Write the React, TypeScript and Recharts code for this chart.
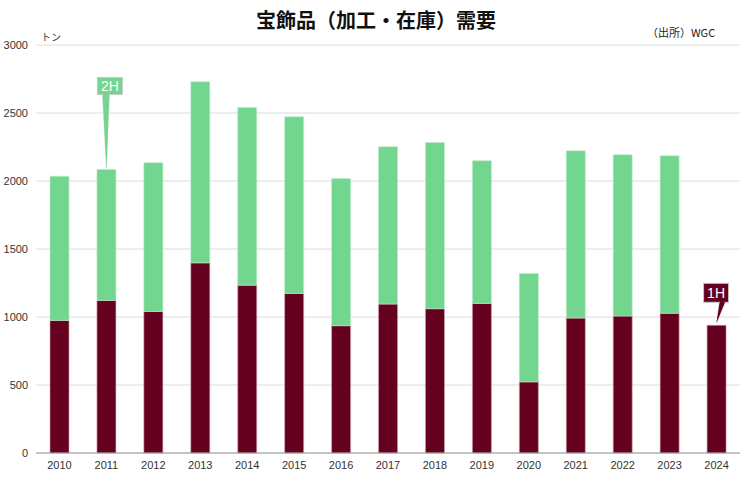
import React from 'react';
import { BarChart, Bar, XAxis, YAxis, CartesianGrid, LabelList } from 'recharts';

const years = ['2010','2011','2012','2013','2014','2015','2016','2017','2018','2019','2020','2021','2022','2023','2024'];
const firstHalf = [975, 1122, 1041, 1398, 1234, 1173, 936, 1095, 1061, 1100, 523, 992, 1007, 1027, 939];
const secondHalf: (number | null)[] = [1060, 963, 1094, 1332, 1306, 1299, 1082, 1157, 1222, 1049, 797, 1230, 1186, 1158, null];
const yTicks = [0, 500, 1000, 1500, 2000, 2500, 3000];

const data = years.map((y, i) => ({ year: y, h1: firstHalf[i], h2: secondHalf[i] }));

const MAROON = '#66001f';
const GREEN = '#72d68f';
const FONT = '"Liberation Sans", Arial, sans-serif';

const Callout2H = (props: any) => {
  const { x, y, width, index } = props;
  if (index !== 1) return null;
  const cx = Number(x) + Number(width) / 2;
  const top = Number(y);
  const bw = 25, bh = 17;
  const boxBottom = top - 75;
  const boxTop = boxBottom - bh;
  return (
    <g>
      <polygon points={`${cx - 4},${boxBottom - 1} ${cx + 3},${boxBottom - 1} ${cx},${top - 1}`} fill={GREEN} stroke="#c8c8c8" strokeWidth={0.6} />
      <rect x={cx - 9} y={boxTop} width={bw} height={bh} fill={GREEN} stroke="#c8c8c8" strokeWidth={1} />
      <polygon points={`${cx - 3.5},${boxBottom - 1} ${cx + 2.5},${boxBottom - 1} ${cx},${top - 2}`} fill={GREEN} />
      <text x={cx + 3.5} y={boxTop + 13.5} textAnchor="middle" fill="#fff" fontSize={14} fontFamily={FONT}>2H</text>
    </g>
  );
};

const Callout1H = (props: any) => {
  const { x, y, width, index } = props;
  if (index !== 14) return null;
  const cx = Number(x) + Number(width) / 2;
  const top = Number(y);
  const bw = 25, bh = 19;
  const boxBottom = top - 23;
  const boxTop = boxBottom - bh;
  return (
    <g>
      <polygon points={`${cx + 3},${boxBottom - 1} ${cx + 9},${boxBottom - 1} ${cx},${top - 2}`} fill={MAROON} stroke="#c8c8c8" strokeWidth={0.6} />
      <rect x={cx - 13} y={boxTop} width={bw} height={bh} fill={MAROON} stroke="#c8c8c8" strokeWidth={1} />
      <polygon points={`${cx + 3.5},${boxBottom - 1} ${cx + 8.5},${boxBottom - 1} ${cx},${top - 3}`} fill={MAROON} />
      <text x={cx - 0.5} y={boxTop + 15} textAnchor="middle" fill="#fff" fontSize={14} fontFamily={FONT}>1H</text>
    </g>
  );
};

export default function App() {
  return (
    <div style={{ position: 'absolute', left: 0, top: 0, width: 752, height: 492, background: '#fff' }}>
      <div style={{ position: 'absolute', left: 0, top: 6, width: 752, textAlign: 'center', fontFamily: '"Noto Sans CJK JP", sans-serif', fontWeight: 700, fontSize: 20, color: '#111', lineHeight: '28px' }}>
        宝飾品（加工・在庫）需要
      </div>
      <div style={{ position: 'absolute', left: 647, top: 24, fontFamily: '"Noto Sans CJK JP", sans-serif', fontSize: 11, color: '#222', lineHeight: '16px', whiteSpace: 'nowrap' }}>
        （出所）WGC
      </div>
      <div style={{ position: 'absolute', left: 41, top: 30, fontFamily: '"Noto Sans CJK JP", sans-serif', fontSize: 10, color: '#333', lineHeight: '14px' }}>
        トン
      </div>
      <BarChart width={752} height={492} data={data} margin={{ top: 45, right: 12, bottom: 14, left: 0 }} barSize={19}>
        <CartesianGrid vertical={false} stroke="#dcdcdc" />
        <XAxis dataKey="year" tickLine={false} axisLine={{ stroke: '#9a9a9a' }} height={25}
          tick={{ fontSize: 11, fill: '#333', fontFamily: FONT }} interval={0} />
        <YAxis domain={[0, 3000]} ticks={yTicks} width={36} tickLine={false} axisLine={false}
          tick={{ fontSize: 11, fill: '#333', fontFamily: FONT }} />
        <Bar dataKey="h1" stackId="a" fill={MAROON} stroke="#c9a3ad" strokeWidth={0.6} isAnimationActive={false}>
          <LabelList dataKey="h1" content={Callout1H} />
        </Bar>
        <Bar dataKey="h2" stackId="a" fill={GREEN} stroke="#bfe9c9" strokeWidth={0.6} isAnimationActive={false}>
          <LabelList dataKey="h2" content={Callout2H} />
        </Bar>
      </BarChart>
    </div>
  );
}
